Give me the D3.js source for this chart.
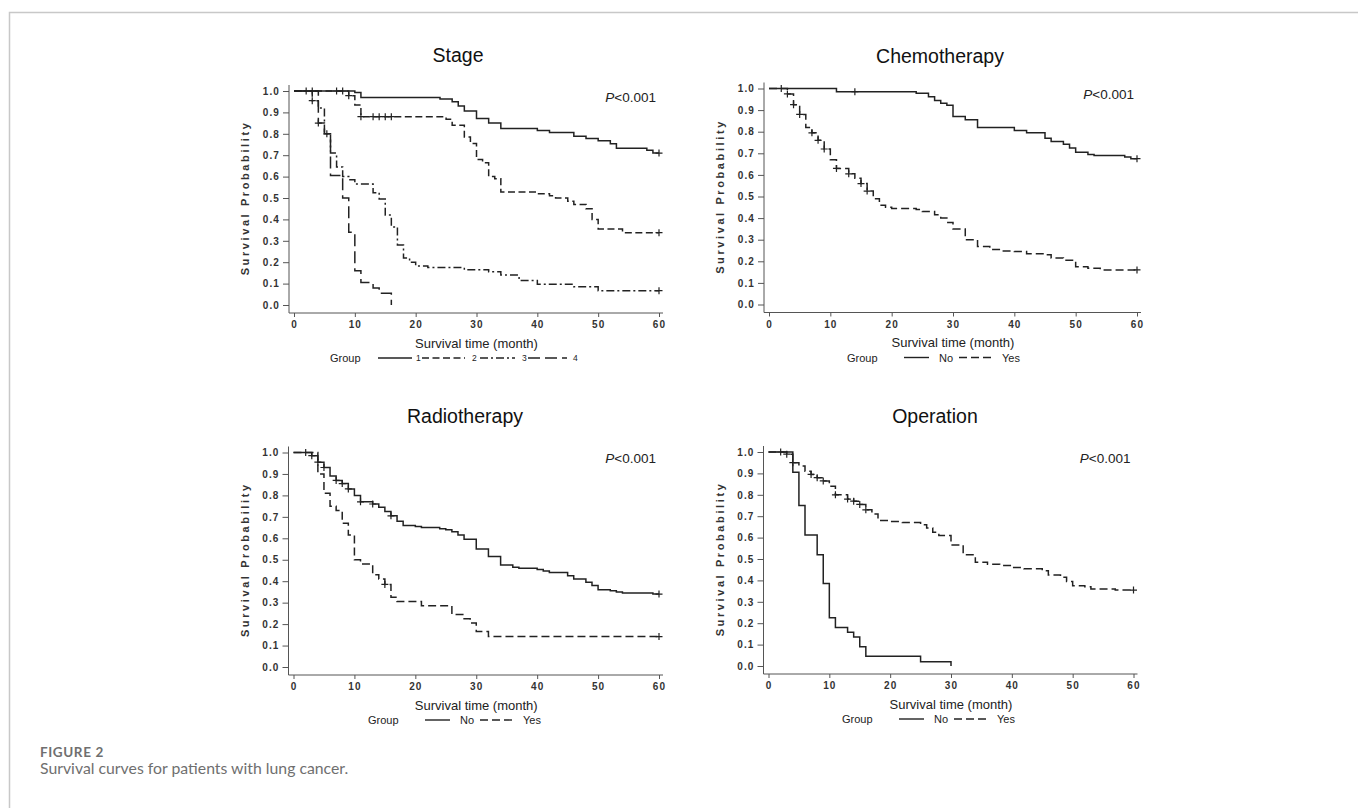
<!DOCTYPE html>
<html><head><meta charset="utf-8">
<script src="https://cdn.jsdelivr.net/npm/d3@7"></script>
<style>body{margin:0;background:#fff}svg{display:block}</style>
</head><body>
<svg id="c" width="1358" height="808"></svg>
<script>
// ---------- DATA (times in months, survival probability) ----------
const xTickValues = [0, 10, 20, 30, 40, 50, 60];
const yTickValues = [0, 0.1, 0.2, 0.3, 0.4, 0.5, 0.6, 0.7, 0.8, 0.9, 1.0];
const panelTitles = ["Stage", "Chemotherapy", "Radiotherapy", "Operation"];
const pValueText = "<0.001";
const stageLabels = ["1", "2", "3", "4"];
const yesNoLabels = ["No", "Yes"];

// Stage
const stage1T = [10, 11, 24, 26, 27, 28, 30, 32, 34, 40, 42, 46, 48, 50, 52, 53, 58, 59];
const stage1S = [0.993, 0.97, 0.963, 0.95, 0.93, 0.907, 0.871, 0.85, 0.825, 0.816, 0.806, 0.789, 0.778, 0.768, 0.754, 0.733, 0.723, 0.71];
const stage1C = [2, 3, 7, 8, 60];
const stage2T = [9, 10, 11, 25, 26, 28, 29, 30, 31, 32, 33, 34, 40, 42, 43, 45, 46, 48, 49, 50, 54];
const stage2S = [0.978, 0.935, 0.88, 0.868, 0.84, 0.785, 0.755, 0.68, 0.665, 0.6, 0.59, 0.528, 0.52, 0.51, 0.5, 0.485, 0.47, 0.45, 0.4, 0.355, 0.338];
const stage2C = [9, 11, 13, 14, 15, 16, 60];
const stage3T = [3, 4, 5, 6, 7, 8, 9, 10, 13, 14, 15, 16, 17, 18, 19, 20, 22, 28, 32, 34, 37, 40, 46, 50];
const stage3S = [0.955, 0.92, 0.8, 0.71, 0.645, 0.6, 0.585, 0.565, 0.525, 0.495, 0.42, 0.365, 0.28, 0.22, 0.2, 0.182, 0.175, 0.165, 0.155, 0.14, 0.115, 0.097, 0.085, 0.067];
const stage3C = [3, 5.4, 60];
const stage4T = [4, 5, 6, 8, 9, 10, 11, 13, 14, 16];
const stage4S = [0.85, 0.8, 0.605, 0.5, 0.34, 0.16, 0.105, 0.08, 0.055, 0];
const stage4C = [4];

// Chemotherapy
const chemoNoT = [11, 24, 26, 27, 28, 29, 30, 32, 34, 40, 42, 45, 46, 48, 49, 50, 52, 53, 58, 59];
const chemoNoS = [0.985, 0.978, 0.962, 0.945, 0.932, 0.923, 0.87, 0.855, 0.82, 0.805, 0.795, 0.77, 0.755, 0.742, 0.725, 0.705, 0.695, 0.69, 0.683, 0.675];
const chemoNoC = [2, 14, 60];
const chemoYesT = [3, 4, 5, 6, 7, 8, 9, 10, 11, 13, 14, 15, 16, 17, 18, 19, 20, 24, 25, 27, 28, 29, 30, 32, 34, 36, 38, 40, 42, 45, 46, 48, 50, 52, 54];
const chemoYesS = [0.975, 0.925, 0.88, 0.82, 0.795, 0.76, 0.72, 0.67, 0.63, 0.605, 0.585, 0.56, 0.525, 0.49, 0.46, 0.45, 0.445, 0.44, 0.43, 0.415, 0.4, 0.38, 0.35, 0.3, 0.268, 0.255, 0.248, 0.245, 0.235, 0.23, 0.215, 0.205, 0.175, 0.168, 0.16];
const chemoYesC = [3, 4, 5, 7, 8, 9, 11, 13, 15, 16, 60];

// Radiotherapy
const radioNoT = [3, 4, 5, 6, 7, 8, 9, 10, 11, 13, 14, 15, 16, 17, 18, 20, 21, 24, 25, 26, 27, 28, 30, 32, 34, 36, 37, 40, 41, 42, 45, 46, 48, 49, 50, 52, 53, 54, 59];
const radioNoS = [0.985, 0.955, 0.93, 0.89, 0.87, 0.855, 0.83, 0.8, 0.77, 0.76, 0.745, 0.725, 0.705, 0.68, 0.66, 0.655, 0.65, 0.645, 0.64, 0.63, 0.615, 0.595, 0.55, 0.515, 0.475, 0.465, 0.46, 0.455, 0.448, 0.44, 0.425, 0.41, 0.395, 0.38, 0.36, 0.355, 0.35, 0.345, 0.34];
const radioNoC = [2, 3, 4, 5, 7, 8, 9, 11, 13, 16, 60];
const radioYesT = [4, 5, 6, 7, 8, 9, 10, 11, 13, 14, 15, 16, 17, 21, 26, 28, 29, 30, 32];
const radioYesS = [0.9, 0.81, 0.75, 0.73, 0.67, 0.615, 0.5, 0.48, 0.43, 0.41, 0.385, 0.325, 0.305, 0.285, 0.245, 0.225, 0.205, 0.165, 0.142];
const radioYesC = [15, 60];

// Operation
const opNoT = [4, 5, 6, 8, 9, 10, 11, 13, 14, 15, 16, 25, 30];
const opNoS = [0.905, 0.75, 0.612, 0.52, 0.385, 0.225, 0.18, 0.158, 0.135, 0.09, 0.045, 0.02, 0];
const opNoC = [2];
const opYesT = [3, 4, 5, 6, 7, 8, 9, 10, 11, 13, 14, 15, 16, 17, 18, 20, 22, 25, 26, 27, 28, 30, 32, 34, 36, 38, 40, 42, 45, 46, 48, 49, 50, 52, 53, 57];
const opYesS = [0.99, 0.95, 0.935, 0.91, 0.895, 0.88, 0.865, 0.84, 0.8, 0.78, 0.77, 0.755, 0.73, 0.71, 0.68, 0.675, 0.67, 0.66, 0.645, 0.625, 0.61, 0.565, 0.52, 0.485, 0.475, 0.47, 0.46, 0.455, 0.445, 0.425, 0.415, 0.395, 0.375, 0.37, 0.36, 0.355];
const opYesC = [3, 4, 7, 8, 9, 11, 13, 14, 15, 16, 60];

// ---------- STYLE / LAYOUT ----------
const INK = "#222";
const dashes = { solid: null, short: "7,3.5", dashdot: "8,3,2,3", long: "12,5", yes: "8,4" };

const panels = [
  { title: panelTitles[0], x0: 294, x1: 659, yTop: 91, yBot: 305, titleX: 458, titleY: 62, legendX: 330, kind: "stage",
    series: [[stage1T, stage1S, stage1C, "solid"], [stage2T, stage2S, stage2C, "short"], [stage3T, stage3S, stage3C, "dashdot"], [stage4T, stage4S, stage4C, "long"]] },
  { title: panelTitles[1], x0: 769, x1: 1137, yTop: 88.5, yBot: 304.5, titleX: 940, titleY: 63, legendX: 847, kind: "yn",
    series: [[chemoNoT, chemoNoS, chemoNoC, "solid"], [chemoYesT, chemoYesS, chemoYesC, "yes"]] },
  { title: panelTitles[2], x0: 293.5, x1: 659, yTop: 452.5, yBot: 667, titleX: 465, titleY: 423, legendX: 368, kind: "yn",
    series: [[radioNoT, radioNoS, radioNoC, "solid"], [radioYesT, radioYesS, radioYesC, "yes"]] },
  { title: panelTitles[3], x0: 768.5, x1: 1133.5, yTop: 452, yBot: 666, titleX: 935, titleY: 423, legendX: 842, kind: "yn",
    series: [[opNoT, opNoS, opNoC, "solid"], [opYesT, opYesS, opYesC, "yes"]] }
];

const svg = d3.select("#c");
svg.append("rect").attr("width", 1358).attr("height", 808).attr("fill", "#fff");
svg.append("path").attr("d", "M9.5,808V12.5H1358").attr("fill", "none").attr("stroke", "#c8c8c8").attr("stroke-width", 1.5);

function valueAt(T, S, t) {
  let v = 1;
  for (let i = 0; i < T.length; i++) if (T[i] <= t) v = S[i];
  return v;
}

function drawPanel(p) {
  const x = d3.scaleLinear().domain([0, 60]).range([p.x0, p.x1]);
  const y = d3.scaleLinear().domain([0, 1]).range([p.yBot, p.yTop]);
  const g = svg.append("g");

  g.append("text").attr("x", p.titleX).attr("y", p.titleY).attr("text-anchor", "middle")
    .attr("font-family", "Liberation Sans, Arial, sans-serif").attr("font-size", 19.5).attr("fill", "#111").text(p.title);

  const axX = p.x0 - 5, axY = p.yBot + 8;
  // x axis
  const gx = g.append("g").attr("transform", `translate(0,${axY})`)
    .call(d3.axisBottom(x).tickValues(xTickValues).tickSize(4).tickPadding(4).tickFormat(d3.format("d")));
  gx.select(".domain").remove();
  gx.append("line").attr("x1", axX).attr("x2", p.x1 + 4).attr("stroke", "#555");
  // y axis
  const gy = g.append("g").attr("transform", `translate(${axX},0)`)
    .call(d3.axisLeft(y).tickValues(yTickValues).tickSize(6).tickPadding(3).tickFormat(d3.format(".1f")));
  gy.select(".domain").remove();
  gy.append("line").attr("y1", p.yTop - 6).attr("y2", axY).attr("stroke", "#555");
  [gx, gy].forEach(a => {
    a.selectAll(".tick line").attr("stroke", "#555");
    a.selectAll("text").attr("font-family", "Liberation Sans, Arial, sans-serif").attr("font-size", 10)
      .attr("font-weight", "bold").attr("fill", "#333").attr("letter-spacing", 1.1);
  });

  // axis titles
  g.append("text").attr("transform", `translate(${p.x0 - 45},${(p.yTop + p.yBot) / 2}) rotate(-90)`)
    .attr("text-anchor", "middle").attr("font-family", "Liberation Sans, Arial, sans-serif")
    .attr("font-size", 11).attr("font-weight", "bold").attr("letter-spacing", 2.6).attr("fill", "#333")
    .text("Survival Probability");
  g.append("text").attr("x", (p.x0 + p.x1) / 2).attr("y", p.yBot + 42.5).attr("text-anchor", "middle")
    .attr("font-family", "Liberation Sans, Arial, sans-serif").attr("font-size", 13).attr("fill", "#222")
    .text("Survival time (month)");

  // P value
  const pt = g.append("text").attr("x", p.x1 - 3).attr("y", p.yTop + 10.5).attr("text-anchor", "end")
    .attr("font-family", "Liberation Sans, Arial, sans-serif").attr("font-size", 13.5).attr("fill", "#222");
  pt.append("tspan").attr("font-style", "italic").text("P");
  pt.append("tspan").text(pValueText);

  // curves
  const line = d3.line().x(d => x(d[0])).y(d => y(d[1])).curve(d3.curveStepAfter);
  p.series.forEach(([T, S, C, dash]) => {
    const end = Math.max(T[T.length - 1], C.length ? C[C.length - 1] : 0);
    const pts = [[0, 1]].concat(T.map((t, i) => [t, S[i]]));
    pts.push([end, S[S.length - 1]]);
    g.append("path").attr("d", line(pts)).attr("fill", "none").attr("stroke", INK)
      .attr("stroke-width", 1.5).attr("stroke-dasharray", dashes[dash]);
    g.selectAll(null).data(C).enter().append("path")
      .attr("d", c => { const cx = x(c), cy = y(valueAt(T, S, c)); return `M${cx - 3.5},${cy}H${cx + 3.5}M${cx},${cy - 3.5}V${cy + 3.5}`; })
      .attr("stroke", INK).attr("stroke-width", 1.2).attr("fill", "none");
  });

  // legend
  const ly = p.yBot + 53, gl = p.legendX;
  const lg = g.append("g").attr("font-family", "Liberation Sans, Arial, sans-serif").attr("fill", "#222");
  lg.append("text").attr("x", gl).attr("y", ly + 4).attr("font-size", 11).text("Group");
  let items;
  if (p.kind === "stage") {
    items = [[48, 82, 86], [92, 135, 142], [150, 185, 192], [198, 237, 243]].map((o, i) => ({ o, lab: stageLabels[i], dash: p.series[i][3], fs: 8.5 }));
  } else {
    items = [[57, 82, 92], [112, 144, 155]].map((o, i) => ({ o, lab: yesNoLabels[i], dash: p.series[i][3], fs: 11 }));
  }
  items.forEach(it => {
    lg.append("line").attr("x1", gl + it.o[0]).attr("x2", gl + it.o[1]).attr("y1", ly).attr("y2", ly)
      .attr("stroke", INK).attr("stroke-width", 1.4).attr("stroke-dasharray", dashes[it.dash]);
    lg.append("text").attr("x", gl + it.o[2]).attr("y", ly + (it.fs > 10 ? 4 : 3)).attr("font-size", it.fs).text(it.lab);
  });
}
panels.forEach(drawPanel);

// caption
svg.append("text").attr("x", 40).attr("y", 757).attr("font-family", "Lato, Open Sans, sans-serif")
  .attr("font-size", 13.5).attr("font-weight", "bold").attr("letter-spacing", 0.6).attr("fill", "#6f6f6f").text("FIGURE 2");
svg.append("text").attr("x", 40).attr("y", 773.5).attr("font-family", "Lato, Open Sans, sans-serif")
  .attr("font-size", 15.8).attr("fill", "#6f6f6f").text("Survival curves for patients with lung cancer.");
</script>
</body></html>
